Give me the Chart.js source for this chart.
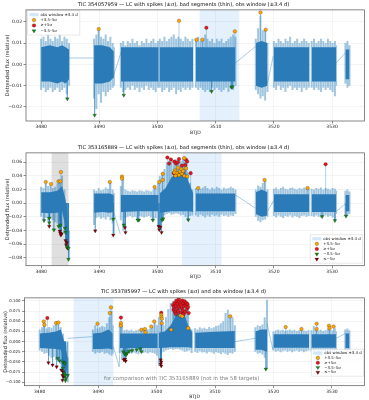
<!DOCTYPE html>
<html>
<head>
<meta charset="utf-8">
<script src="https://cdn.jsdelivr.net/npm/chart.js@4"></script>
<style>
  body { margin: 0; background: #fff; width: 369px; height: 400px; overflow: hidden; position: relative; }
  canvas { position: absolute; left: 0; }
</style>
</head>
<body>
<canvas id="c1" width="369" height="141" style="top:0px"></canvas>
<canvas id="c2" width="369" height="145" style="top:141px"></canvas>
<canvas id="c3" width="369" height="114" style="top:286px"></canvas>
<script>
// ---- data ----
const xTicks = [3480, 3490, 3500, 3510, 3520, 3530];
const xTickLabels = ['3480', '3490', '3500', '3510', '3520', '3530'];

// sample times of the flux envelope, null = gap between segments
const btjd = [
  3480.0,3480.4,3480.8,3481.2,3481.6,3482.0,3482.4,3482.8,3483.2,3483.6,3484.0,3484.4,3484.8, null,
  3489.1,3489.5,3489.9,3490.3,3490.7,3491.1,3491.5,3491.9,3492.3,3492.5, null,
  3493.7,3494.1,3494.5,3494.9,3495.3,3495.7,3496.1,3496.5,3496.9,3497.3,3497.7,3498.1,3498.5,3498.9,3499.3,3499.7,3500.1, null,
  3500.4,3500.8,3501.2,3501.6,3502.0,3502.4,3502.8,3503.2,3503.6,3504.0,3504.4,3504.8,3505.2,3505.6,3506.0, null,
  3506.6,3507.0,3507.4,3507.8,3508.2,3508.6,3509.0,3509.4,3509.8,3510.2,3510.6,3511.0,3511.4,3511.8,3512.2,3512.6,3513.0,3513.4, null,
  3516.9,3517.3,3517.7,3518.1,3518.5,3518.9, null,
  3520.0,3520.4,3520.8,3521.2,3521.6,3522.0,3522.4,3522.8,3523.2,3523.6,3524.0,3524.4,3524.8,3525.2,3525.6,3526.0, null,
  3526.5,3526.9,3527.3,3527.7,3528.1,3528.5,3528.9,3529.3,3529.7,3530.1,3530.5,3530.7, null,
  3532.3,3532.65,3533.0
];

// TIC 354057959
const p1Hi = [
  0.012,0.013,0.011,0.014,0.012,0.011,0.013,0.012,0.014,0.011,0.013,0.012,0.010, null,
  0.012,0.014,0.016,0.013,0.012,0.014,0.011,0.013,0.010,0.008, null,
  0.010,0.011,0.009,0.011,0.010,0.012,0.010,0.011,0.009,0.011,0.010,0.012,0.010,0.011,0.012,0.010,0.011, null,
  0.012,0.011,0.013,0.011,0.012,0.013,0.014,0.012,0.013,0.012,0.011,0.013,0.012,0.011,0.012, null,
  0.012,0.013,0.011,0.012,0.014,0.012,0.011,0.012,0.010,0.012,0.011,0.012,0.010,0.011,0.012,0.013,0.014,0.013, null,
  0.012,0.017,0.023,0.016,0.016,0.010, null,
  0.011,0.010,0.012,0.011,0.010,0.012,0.011,0.013,0.010,0.011,0.012,0.010,0.011,0.012,0.011,0.010, null,
  0.011,0.012,0.010,0.011,0.012,0.011,0.010,0.012,0.011,0.010,0.011,0.009, null,
  0.010,0.011,0.009
];
const p1Lo = [
  -0.012,-0.011,-0.013,-0.012,-0.011,-0.013,-0.012,-0.011,-0.013,-0.012,-0.011,-0.014,-0.010, null,
  -0.016,-0.021,-0.014,-0.018,-0.013,-0.015,-0.013,-0.012,-0.011,-0.010, null,
  -0.011,-0.013,-0.012,-0.011,-0.012,-0.010,-0.012,-0.011,-0.013,-0.011,-0.012,-0.010,-0.012,-0.011,-0.012,-0.013,-0.011, null,
  -0.011,-0.013,-0.012,-0.011,-0.013,-0.012,-0.011,-0.014,-0.012,-0.013,-0.011,-0.012,-0.011,-0.012,-0.011, null,
  -0.011,-0.012,-0.011,-0.012,-0.013,-0.012,-0.013,-0.011,-0.012,-0.011,-0.012,-0.013,-0.012,-0.011,-0.013,-0.011,-0.012,-0.010, null,
  -0.012,-0.014,-0.016,-0.015,-0.017,-0.013, null,
  -0.011,-0.012,-0.010,-0.012,-0.011,-0.013,-0.011,-0.010,-0.012,-0.011,-0.012,-0.011,-0.013,-0.011,-0.012,-0.011, null,
  -0.011,-0.012,-0.011,-0.012,-0.013,-0.011,-0.012,-0.011,-0.012,-0.013,-0.015,-0.010, null,
  -0.009,-0.011,-0.010
];

// TIC 353165889
const p2Hi = [
  0.024,0.022,0.028,0.025,0.026,0.022,0.024,0.029,0.034,0.040,0.020,-0.010,-0.040, null,
  0.020,0.018,0.022,0.019,0.020,0.023,0.021,0.030,0.020,0.015, null,
  0.025,0.036,0.020,0.018,0.017,0.019,0.018,0.017,0.019,0.018,0.017,0.019,0.018,0.017,0.020,0.022,0.030, null,
  0.040,0.042,0.050,0.060,0.062,0.065,0.060,0.064,0.063,0.062,0.066,0.060,0.045,0.030,0.020, null,
  0.022,0.024,0.021,0.023,0.025,0.022,0.020,0.023,0.021,0.024,0.022,0.020,0.023,0.021,0.022,0.024,0.022,0.020, null,
  0.020,0.026,0.024,0.030,0.034,0.020, null,
  0.021,0.023,0.020,0.022,0.024,0.021,0.020,0.022,0.023,0.021,0.020,0.022,0.021,0.023,0.022,0.021, null,
  0.021,0.020,0.022,0.021,0.023,0.020,0.022,0.021,0.020,0.022,0.021,0.018, null,
  0.018,0.020,0.017
];
const p2Lo = [
  -0.020,-0.024,-0.022,-0.026,-0.023,-0.025,-0.028,-0.030,-0.027,-0.035,-0.045,-0.060,-0.082, null,
  -0.032,-0.022,-0.020,-0.023,-0.021,-0.024,-0.020,-0.025,-0.030,-0.045, null,
  -0.025,-0.040,-0.022,-0.020,-0.019,-0.021,-0.020,-0.024,-0.019,-0.020,-0.021,-0.020,-0.019,-0.021,-0.024,-0.022,-0.035, null,
  -0.040,-0.024,-0.018,-0.016,-0.015,-0.017,-0.016,-0.015,-0.016,-0.018,-0.017,-0.020,-0.025,-0.019,-0.018, null,
  -0.018,-0.020,-0.017,-0.019,-0.021,-0.018,-0.020,-0.017,-0.019,-0.018,-0.020,-0.017,-0.019,-0.018,-0.020,-0.018,-0.019,-0.016, null,
  -0.020,-0.026,-0.028,-0.025,-0.024,-0.020, null,
  -0.019,-0.021,-0.018,-0.020,-0.022,-0.019,-0.020,-0.018,-0.021,-0.019,-0.020,-0.022,-0.019,-0.018,-0.020,-0.019, null,
  -0.019,-0.020,-0.018,-0.020,-0.021,-0.019,-0.018,-0.020,-0.019,-0.021,-0.025,-0.016, null,
  -0.019,-0.018,-0.016
];

// TIC 353785997
const p3Hi = [
  0.030,0.035,0.040,0.032,0.036,0.034,0.040,0.045,0.042,0.035,0.020,-0.010,-0.040, null,
  0.030,0.040,0.032,0.035,0.038,0.036,0.045,0.060,0.075,0.040, null,
  0.045,0.040,0.028,0.030,0.027,0.029,0.026,0.028,0.030,0.029,0.031,0.028,0.030,0.032,0.036,0.045,0.040, null,
  0.060,0.050,0.040,0.060,0.080,0.095,0.100,0.104,0.100,0.095,0.085,0.060,0.040,0.035,0.030, null,
  0.033,0.030,0.035,0.032,0.034,0.031,0.036,0.033,0.035,0.038,0.040,0.045,0.050,0.070,0.078,0.065,0.060,0.040, null,
  0.035,0.040,0.038,0.042,0.060,0.103, null,
  0.025,0.028,0.030,0.027,0.029,0.026,0.028,0.030,0.027,0.029,0.026,0.028,0.030,0.027,0.026,0.028, null,
  0.028,0.038,0.030,0.027,0.029,0.026,0.028,0.032,0.030,0.028,0.033,0.025, null,
  0.030,0.032,0.028
];
const p3Lo = [
  -0.022,-0.025,-0.030,-0.028,-0.035,-0.040,-0.038,-0.045,-0.050,-0.055,-0.070,-0.090,-0.100, null,
  -0.025,-0.030,-0.027,-0.028,-0.025,-0.030,-0.028,-0.032,-0.035,-0.030, null,
  -0.028,-0.045,-0.030,-0.032,-0.028,-0.030,-0.027,-0.029,-0.031,-0.026,-0.028,-0.027,-0.029,-0.026,-0.028,-0.030,-0.035, null,
  -0.060,-0.030,-0.025,-0.022,-0.020,-0.018,-0.020,-0.019,-0.018,-0.020,-0.022,-0.025,-0.024,-0.022,-0.028, null,
  -0.025,-0.028,-0.024,-0.027,-0.026,-0.029,-0.025,-0.027,-0.030,-0.026,-0.028,-0.031,-0.027,-0.030,-0.033,-0.028,-0.030,-0.025, null,
  -0.025,-0.030,-0.028,-0.032,-0.040,-0.066, null,
  -0.022,-0.025,-0.023,-0.026,-0.024,-0.022,-0.025,-0.023,-0.026,-0.024,-0.022,-0.025,-0.023,-0.026,-0.024,-0.022, null,
  -0.023,-0.025,-0.022,-0.026,-0.024,-0.023,-0.025,-0.022,-0.026,-0.024,-0.025,-0.020, null,
  -0.022,-0.025,-0.020
];

// dense core of the light curve (coarser sampling)
const coreT = [
  3480.0,3481.5,3482.8,3483.6,3484.2,3484.8, null,
  3489.1,3490.5,3491.8,3492.5, null,
  3493.7,3497.0,3500.2, null,
  3500.35,3501.4,3502.4,3503.6,3504.6,3505.4,3506.15, null,
  3506.6,3510.0,3513.4, null,
  3516.9,3517.9,3518.9, null,
  3520.0,3523.0,3526.1, null,
  3526.5,3528.6,3530.7, null,
  3532.3,3533.0
];
const p1CoreHi = [0.008,0.009,0.008,0.009,0.008,0.007, null, 0.009,0.009,0.008,0.006, null, 0.008,0.008,0.008, null,
  0.008,0.008,0.008,0.008,0.008,0.008,0.008, null, 0.008,0.008,0.008, null, 0.010,0.011,0.010, null,
  0.008,0.008,0.008, null, 0.008,0.008,0.008, null, 0.007,0.007];
const p1CoreLo = [-0.008,-0.008,-0.009,-0.008,-0.009,-0.007, null, -0.009,-0.009,-0.008,-0.006, null, -0.008,-0.008,-0.008, null,
  -0.008,-0.008,-0.008,-0.008,-0.008,-0.008,-0.008, null, -0.008,-0.008,-0.008, null, -0.010,-0.011,-0.010, null,
  -0.008,-0.008,-0.008, null, -0.008,-0.008,-0.008, null, -0.007,-0.007];
const p2CoreHi = [0.016,0.016,0.018,0.025,0.005,-0.045, null, 0.014,0.014,0.014,0.012, null, 0.012,0.012,0.012, null,
  0.014,0.022,0.038,0.045,0.048,0.030,0.014, null, 0.014,0.014,0.014, null, 0.016,0.020,0.016, null,
  0.013,0.013,0.013, null, 0.013,0.013,0.013, null, 0.012,0.012];
const p2CoreLo = [-0.014,-0.015,-0.014,-0.012,-0.035,-0.072, null, -0.014,-0.013,-0.014,-0.013, null, -0.013,-0.012,-0.012, null,
  -0.014,-0.013,-0.012,-0.012,-0.012,-0.012,-0.013, null, -0.012,-0.012,-0.012, null, -0.016,-0.020,-0.018, null,
  -0.013,-0.013,-0.013, null, -0.013,-0.013,-0.013, null, -0.012,-0.012];
const p3CoreHi = [0.020,0.022,0.025,0.030,0.000,-0.040, null, 0.020,0.022,0.030,0.020, null, 0.020,0.020,0.020, null,
  0.022,0.025,0.040,0.070,0.072,0.040,0.022, null, 0.022,0.024,0.026, null, 0.025,0.030,0.030, null,
  0.018,0.018,0.018, null, 0.018,0.018,0.018, null, 0.020,0.020];
const p3CoreLo = [-0.016,-0.017,-0.018,-0.020,-0.050,-0.085, null, -0.018,-0.018,-0.017,-0.020, null, -0.016,-0.016,-0.016, null,
  -0.016,-0.015,-0.014,-0.014,-0.014,-0.014,-0.016, null, -0.016,-0.016,-0.016, null, -0.020,-0.020,-0.025, null,
  -0.015,-0.015,-0.015, null, -0.015,-0.015,-0.015, null, -0.016,-0.016];

// thin "bad segment" connectors, [btjd, flux], null = break
const p1Thin = [[3484.8,0.003],[3489.0,0.003], null, [3492.3,-0.0064],[3493.9,0.0069], null,
  [3513.4,0.0007],[3516.9,0.0085], null, [3518.9,-0.009],[3519.9,0.004], null, [3530.7,0.0007],[3532.3,0.0054]];
const p2Thin = [[3492.5,-0.014],[3493.6,-0.045], null, [3513.4,0.012],[3516.8,-0.0074], null,
  [3518.9,-0.012],[3520.0,0.004], null, [3530.7,-0.0123],[3532.3,-0.001]];
const p3Thin = [[3484.8,0.008],[3489.0,0.012], null, [3492.6,-0.012],[3493.6,-0.062],[3493.8,0.0], null,
  [3513.4,0.0],[3516.9,0.008], null, [3518.9,0.045],[3519.9,-0.020], null, [3530.7,0.008],[3532.3,0.020]];

// spikes [btjd, flux]
const p1Up = [[3489.9,0.0166],[3503.7,0.0205],[3506.7,0.0116],[3507.7,0.0116],[3513.3,0.0155],[3517.7,0.0244],[3518.6,0.0163]];
const p1UpBig = [[3508.4,0.0172]];
const p1Down = [[3484.5,-0.0162],[3489.2,-0.0239],[3494.2,-0.0145],[3509.3,-0.0127],[3512.7,-0.0108],[3512.9,-0.0105]];
const p1DownBig = [];

const p2Up = [[3480.8,0.031],[3481.7,0.028],[3483.0,0.032],[3483.3,0.032],[3483.4,0.0455],[3491.8,0.031],[3493.9,0.039],
  [3493.9,0.036],[3499.5,0.0235],[3500.3,0.031],[3500.9,0.043],[3500.9,0.034],[3503.0,0.048],[3503.3,0.044],[3503.5,0.052],
  [3503.7,0.041],[3503.9,0.046],[3504.1,0.050],[3504.2,0.043],[3504.4,0.047],[3504.6,0.040],[3504.6,0.066],[3504.9,0.051],
  [3505.1,0.039],[3503.1,0.040],[3502.9,0.045],[3507.0,0.022],[3518.4,0.034],[3525.8,0.022]];
const p2UpBig = [[3501.7,0.067],[3502.3,0.064],[3502.9,0.061],[3503.7,0.0647],[3504.2,0.055],[3502.8,0.044],[3503.2,0.058],
  [3504.9,0.0637],[3505.1,0.061],[3504.8,0.056],[3505.7,0.044],[3503.5,0.060],[3502.0,0.058],[3528.9,0.057]];
const p2Down = [[3480.5,-0.0256],[3481.4,-0.022],[3481.4,-0.0288],[3482.2,-0.0393],[3483.0,-0.034],[3483.3,-0.032],
  [3484.1,-0.0368],[3484.2,-0.0426],[3484.4,-0.0638],[3484.7,-0.0662],[3484.7,-0.0824],[3492.4,-0.0235],[3494.2,-0.032],
  [3496.8,-0.025],[3496.6,-0.025],[3499.2,-0.025],[3500.8,-0.025],[3501.0,-0.023],[3505.3,-0.0245],[3528.3,-0.0197],
  [3530.5,-0.0256],[3532.4,-0.019]];
const p2DownBig = [[3481.4,-0.034],[3483.2,-0.041],[3483.3,-0.044],[3483.4,-0.047],[3483.5,-0.045],[3484.2,-0.055],
  [3484.4,-0.058],[3484.3,-0.061],[3484.5,-0.066],[3489.3,-0.0407],[3492.4,-0.047],[3494.4,-0.036],[3494.5,-0.043],
  [3500.2,-0.034],[3500.3,-0.039],[3500.5,-0.035],[3500.7,-0.043]];

const p3Up = [[3480.7,0.0495],[3480.8,0.041],[3482.8,0.0455],[3483.2,0.047],[3489.9,0.044],[3492.2,0.084],[3492.0,0.070],
  [3493.9,0.0455],[3493.9,0.039],[3497.4,0.029],[3498.0,0.031],[3498.1,0.023],[3499.1,0.037],[3499.6,0.0495],[3500.8,0.066],
  [3500.8,0.061],[3500.9,0.056],[3500.9,0.045],[3502.5,0.029],[3504.1,0.064],[3504.4,0.062],[3505.4,0.033],[3512.6,0.062],
  [3522.1,0.0356],[3524.8,0.031],[3527.4,0.044],[3527.4,0.031],[3529.5,0.039],[3529.6,0.033],[3530.3,0.037]];
const p3UpBig = [[3481.3,0.058],[3493.9,0.059],[3500.8,0.071],[3502.8,0.090],[3502.9,0.078],[3503.0,0.085],[3503.1,0.095],
  [3503.2,0.072],[3503.3,0.088],[3503.4,0.100],[3503.5,0.080],[3503.6,0.093],[3503.7,0.075],[3503.8,0.104],[3503.9,0.086],
  [3504.0,0.097],[3504.1,0.070],[3504.2,0.091],[3504.3,0.082],[3504.4,0.101],[3504.5,0.076],[3504.6,0.094],[3504.7,0.087],
  [3504.8,0.099],[3504.9,0.073],[3505.0,0.089],[3505.1,0.095],[3505.2,0.080],[3505.3,0.092],[3505.4,0.085],[3505.5,0.070],
  [3503.3,0.068],[3504.6,0.067]];
const p3Down = [[3483.1,-0.041],[3483.4,-0.047],[3484.0,-0.050],[3484.2,-0.052],[3484.3,-0.055],[3484.0,-0.065],
  [3484.2,-0.078],[3484.3,-0.083],[3484.5,-0.0906],[3484.4,-0.096],[3484.8,-0.083],[3494.3,-0.025],[3494.5,-0.030],
  [3494.8,-0.033],[3495.0,-0.028],[3495.3,-0.024],[3495.8,-0.022],[3496.6,-0.020],[3497.2,-0.018],[3497.4,-0.025],
  [3518.7,-0.0676]];
const p3DownBig = [[3481.5,-0.052],[3482.2,-0.0575],[3482.9,-0.062],[3483.7,-0.070],[3484.0,-0.074],[3483.9,-0.083],
  [3484.1,-0.087],[3483.9,-0.095],[3494.4,-0.045],[3494.6,-0.043],[3494.7,-0.048],[3500.7,-0.045],[3500.8,-0.050],
  [3500.7,-0.055],[3500.8,-0.060]];

const p1Window = [3507.25, 3514.05];
const p2Window = [3504.2, 3511.0];
const p2Bad = [3481.8, 3484.7];
const p3Window = [3485.8, 3492.6];

const p1YTicks = [-0.02, -0.01, 0, 0.01, 0.02];
const p1YTickLabels = ['\u22120.02', '\u22120.01', '0.00', '0.01', '0.02'];
const p2YTicks = [-0.08, -0.06, -0.04, -0.02, 0, 0.02, 0.04, 0.06];
const p2YTickLabels = ['\u22120.08', '\u22120.06', '\u22120.04', '\u22120.02', '0.00', '0.02', '0.04', '0.06'];
const p3YTicks = [-0.1, -0.075, -0.05, -0.025, 0, 0.025, 0.05, 0.075, 0.1];
const p3YTickLabels = ['\u22120.100', '\u22120.075', '\u22120.050', '\u22120.025', '0.000', '0.025', '0.050', '0.075', '0.100'];

const legendLabels = ['obs window \u00b13.4 d', '+3.5\u20135\u03c3', '\u2265+5\u03c3', '\u22123.5\u20135\u03c3', '\u2264\u22125\u03c3'];

// ---- styles ----
const CORE = '#2b7bb8';
const FRINGE = 'rgba(31,119,180,0.42)';
const THIN = 'rgba(31,119,180,0.55)';
const WIN = 'rgba(30,136,229,0.12)';
const BAD = 'rgba(120,120,120,0.24)';
const ORANGE = '#ffa500', RED = '#e8141c', GREEN = '#138a13', DARKRED = '#8b0000';
const FONT = "'DejaVu Sans', sans-serif";

Chart.defaults.font.family = FONT;
Chart.defaults.color = '#222';

function segments(t, hi, lo) {
  const out = [];
  let cur = null;
  t.forEach((x, i) => {
    if (x === null || hi[i] === null) { cur = null; return; }
    if (!cur) { cur = { hi: [], lo: [] }; out.push(cur); }
    cur.hi.push({ x, y: hi[i] });
    cur.lo.push({ x, y: lo[i] });
  });
  return out;
}

function drawMarker(ctx, kind, color, x, y) {
  ctx.beginPath();
  if (kind === 'circle') {
    ctx.arc(x, y, 1.8, 0, Math.PI * 2);
  } else {
    ctx.moveTo(x - 2, y - 1.1);
    ctx.lineTo(x + 2, y - 1.1);
    ctx.lineTo(x, y + 2.1);
    ctx.closePath();
  }
  ctx.fillStyle = color;
  ctx.fill();
  ctx.lineWidth = 0.4;
  ctx.strokeStyle = 'rgba(0,0,0,0.55)';
  ctx.stroke();
}

function drawLegend(ctx, a, lg) {
  ctx.save();
  ctx.font = lg.font + 'px ' + FONT;
  const tw = Math.max(...lg.rows.map(r => ctx.measureText(r.label).width));
  const w = tw + 15, h = lg.rows.length * lg.rowH + 3;
  const x0 = lg.left != null ? a.left + lg.left : a.right - lg.right - w;
  const y0 = lg.top != null ? a.top + lg.top : a.bottom - lg.bottom - h;
  ctx.fillStyle = 'rgba(255,255,255,0.85)';
  ctx.strokeStyle = '#d0d0d0';
  ctx.lineWidth = 0.5;
  ctx.beginPath();
  ctx.rect(x0, y0, w, h);
  ctx.fill();
  ctx.stroke();
  lg.rows.forEach((r, i) => {
    const cy = y0 + 1.5 + lg.rowH * (i + 0.5);
    if (r.kind === 'patch') {
      ctx.fillStyle = 'rgba(30,136,229,0.2)';
      ctx.fillRect(x0 + 2, cy - 1.6, 9, 3.2);
    } else {
      drawMarker(ctx, r.kind, r.color, x0 + 6.5, cy);
    }
    ctx.fillStyle = '#111';
    ctx.textBaseline = 'middle';
    ctx.textAlign = 'left';
    ctx.fillText(r.label, x0 + 13, cy);
  });
  ctx.restore();
}

function makePanel(id, p) {
  const datasets = [];
  const allSpikes = [].concat(p.up, p.upBig, p.down, p.downBig);

  // stems from the band out to each spike
  const stems = [];
  allSpikes.forEach(([x, y]) => { stems.push({ x, y: 0 }, { x, y }, { x, y: null }); });
  datasets.push({ data: stems, borderColor: FRINGE, borderWidth: 0.8, pointRadius: 0, spanGaps: false, order: 3 });

  // flux excursions around the core, as vertical strokes
  const strokes = [];
  btjd.forEach((x, i) => {
    if (x === null) return;
    strokes.push({ x, y: p.lo[i] }, { x, y: p.hi[i] }, { x, y: null });
  });
  datasets.push({ data: strokes, borderColor: FRINGE, borderWidth: 2, borderCapStyle: 'butt', pointRadius: 0, spanGaps: false, order: 3 });

  // thin bad-segment connectors
  let lastX = 0;
  const thin = p.thin.map(q => {
    if (!q) return { x: lastX, y: null };
    lastX = q[0];
    return { x: q[0], y: q[1] };
  });
  datasets.push({ data: thin, borderColor: THIN, borderWidth: 0.7, pointRadius: 0, spanGaps: false, order: 3 });

  // dense core band
  segments(coreT, p.coreHi, p.coreLo).forEach(s => {
    datasets.push({ data: s.hi, borderColor: CORE, borderWidth: 0, pointRadius: 0, fill: false, order: 2 });
    datasets.push({ data: s.lo, borderColor: CORE, borderWidth: 0, pointRadius: 0, fill: '-1', backgroundColor: CORE, order: 2 });
  });

  const marks = (arr, color, style) => ({
    data: arr.map(q => ({ x: q[0], y: q[1] })),
    showLine: false,
    pointStyle: style,
    pointRotation: style === 'triangle' ? 180 : 0,
    pointRadius: style === 'triangle' ? 2.1 : 1.8,
    pointBackgroundColor: color,
    pointBorderColor: 'rgba(0,0,0,0.55)',
    pointBorderWidth: 0.4,
    order: 0
  });
  datasets.push(marks(p.up, ORANGE, 'circle'));
  datasets.push(marks(p.upBig, RED, 'circle'));
  datasets.push(marks(p.down, GREEN, 'triangle'));
  datasets.push(marks(p.downBig, DARKRED, 'triangle'));

  const deco = {
    id: 'deco',
    beforeDatasetsDraw(chart) {
      const { ctx, chartArea: a, scales: { x } } = chart;
      ctx.save();
      p.spans.forEach(s => {
        const x0 = x.getPixelForValue(s.range[0]);
        const x1 = x.getPixelForValue(s.range[1]);
        ctx.fillStyle = s.color;
        ctx.fillRect(x0, a.top, x1 - x0, a.bottom - a.top);
      });
      ctx.restore();
    },
    afterDatasetsDraw(chart) {
      const { ctx, chartArea: a, scales: { x, y } } = chart;
      if (p.note) {
        ctx.save();
        ctx.font = '5.3px ' + FONT;
        ctx.fillStyle = '#808080';
        ctx.textAlign = 'center';
        ctx.textBaseline = 'middle';
        ctx.fillText(p.note.text, x.getPixelForValue(p.note.at[0]), y.getPixelForValue(p.note.at[1]));
        ctx.restore();
      }
      drawLegend(ctx, a, p.legend);
    },
    afterDraw(chart) {
      const { ctx, chartArea: a } = chart;
      ctx.save();
      ctx.strokeStyle = '#555';
      ctx.lineWidth = 0.7;
      ctx.strokeRect(a.left, a.top, a.right - a.left, a.bottom - a.top);
      ctx.restore();
    }
  };

  new Chart(document.getElementById(id), {
    type: 'line',
    data: { datasets },
    options: {
      responsive: false,
      devicePixelRatio: 1,
      animation: false,
      layout: { padding: { left: 0, right: 2, top: 0, bottom: 0 } },
      plugins: {
        legend: { display: false },
        tooltip: { enabled: false },
        title: { display: true, text: p.title, color: '#111', font: { size: 5.2, weight: 'normal' }, padding: p.titlePad }
      },
      scales: {
        x: {
          type: 'linear', min: 3477.4, max: 3535.6,
          afterBuildTicks: s => { s.ticks = xTicks.map(v => ({ value: v })); },
          afterFit: s => { s.height = p.xH; },
          ticks: { callback: v => xTickLabels[xTicks.indexOf(v)], font: { size: 4.5 }, padding: 1, maxRotation: 0, autoSkip: false, color: '#222' },
          grid: { color: '#e8e8e8', lineWidth: 0.5, tickLength: 2.5, tickColor: '#444', tickWidth: 0.6 },
          border: { display: false },
          title: { display: true, text: 'BTJD', font: { size: 4.6 }, color: '#222', padding: { top: 0, bottom: p.xTitlePad } }
        },
        y: {
          type: 'linear', min: p.yMin, max: p.yMax,
          afterBuildTicks: s => { s.ticks = p.yTicks.map(v => ({ value: v })); },
          afterFit: s => { s.width = p.yW; },
          ticks: { callback: v => p.yLabels[p.yTicks.indexOf(v)], font: { size: p.yTickSize }, padding: 1.5, autoSkip: false, color: '#222' },
          grid: { color: '#e8e8e8', lineWidth: 0.5, tickLength: 2.5, tickColor: '#444', tickWidth: 0.6 },
          border: { display: false },
          title: { display: true, text: 'Detrended flux (relative)', font: { size: 5 }, color: '#222', padding: { top: p.yTitlePad, bottom: 0 } }
        }
      }
    },
    plugins: [deco]
  });
}

const rowsAll = [
  { kind: 'patch', label: legendLabels[0] },
  { kind: 'circle', color: ORANGE, label: legendLabels[1] },
  { kind: 'circle', color: RED, label: legendLabels[2] },
  { kind: 'tri', color: GREEN, label: legendLabels[3] },
  { kind: 'tri', color: DARKRED, label: legendLabels[4] }
];

makePanel('c1', {
  title: 'TIC 354057959 \u2014 LC with spikes (\u00b1\u03c3), bad segments (thin), obs window (\u00b13.4 d)',
  titlePad: { top: 1.8, bottom: 1.84 }, xH: 20, xTitlePad: 5.2, yW: 26, yTitlePad: 4.3, yTickSize: 4.5,
  yMin: -0.0266, yMax: 0.0256, yTicks: p1YTicks, yLabels: p1YTickLabels,
  hi: p1Hi, lo: p1Lo, coreHi: p1CoreHi, coreLo: p1CoreLo, thin: p1Thin,
  up: p1Up, upBig: p1UpBig, down: p1Down, downBig: p1DownBig,
  spans: [{ range: p1Window, color: WIN }],
  legend: { left: 1.5, top: 0.6, font: 3.9, rowH: 5.4, rows: rowsAll.slice(0, 4) }
});

makePanel('c2', {
  title: 'TIC 353165889 \u2014 LC with spikes (\u00b1\u03c3), bad segments (thin), obs window (\u00b13.4 d)',
  titlePad: { top: 3.1, bottom: 2.54 }, xH: 20.3, xTitlePad: 6.2, yW: 26, yTitlePad: 4.3, yTickSize: 4.5,
  yMin: -0.0918, yMax: 0.0737, yTicks: p2YTicks, yLabels: p2YTickLabels,
  hi: p2Hi, lo: p2Lo, coreHi: p2CoreHi, coreLo: p2CoreLo, thin: p2Thin,
  up: p2Up, upBig: p2UpBig, down: p2Down, downBig: p2DownBig,
  spans: [{ range: p2Window, color: WIN }, { range: p2Bad, color: BAD }],
  legend: { right: 2, bottom: 2.5, font: 3.9, rowH: 5.1, rows: rowsAll }
});

makePanel('c3', {
  title: 'TIC 353785997 \u2014 LC with spikes (\u00b1\u03c3) and obs window (\u00b13.4 d)',
  titlePad: { top: 2.5, bottom: 3.14 }, xH: 14.3, xTitlePad: 0, yW: 24.5, yTitlePad: 3, yTickSize: 3.9,
  yMin: -0.1084, yMax: 0.1074, yTicks: p3YTicks, yLabels: p3YTickLabels,
  hi: p3Hi, lo: p3Lo, coreHi: p3CoreHi, coreLo: p3CoreLo, thin: p3Thin,
  up: p3Up, upBig: p3UpBig, down: p3Down, downBig: p3DownBig,
  spans: [{ range: p3Window, color: WIN }],
  note: { text: 'for comparison with TIC 353165889 (not in the 58 targets)', at: [3504.3, -0.09] },
  legend: { right: 1, bottom: 9.5, font: 3.9, rowH: 4.8, rows: rowsAll }
});
</script>
</body>
</html>
